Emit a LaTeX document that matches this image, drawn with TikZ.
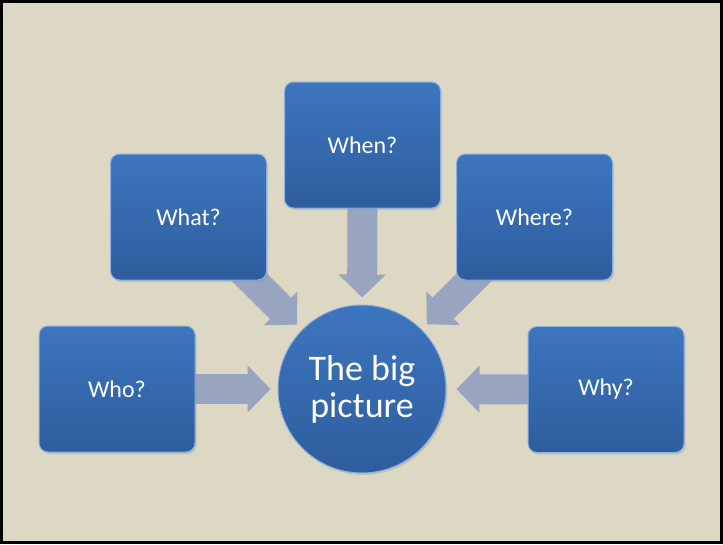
\documentclass[tikz,border=0pt]{standalone}
\usepackage{fontspec}
\setmainfont{Carlito}
\usetikzlibrary{arrows.meta,shadows}
\pgfdeclarelayer{back}
\pgfsetlayers{back,main}
\definecolor{slide}{HTML}{DDD8C3}
\definecolor{boxtop}{HTML}{3D75BF}
\definecolor{boxbot}{HTML}{2E5D9D}
\definecolor{boxrim}{HTML}{8AAEDD}
\definecolor{feedcol}{HTML}{99A5C0}

\begin{document}
\begin{tikzpicture}[x=1pt, y=-1pt,
  every node/.style = {draw=boxrim, line width=1pt,
    top color=boxtop, bottom color=boxbot, text=white, align=center,
    drop shadow={shadow xshift=1.5pt, shadow yshift=-2pt, opacity=0.25}},
  question/.style = {rectangle, rounded corners=9pt, minimum width=156pt,
    minimum height=126pt, font=\fontsize{24}{28}\selectfont},
  whole/.style = {circle, minimum size=168pt, inner sep=0pt,
    font=\fontsize{36}{37}\selectfont},
  feed/.style = {draw=feedcol, line width=30pt, shorten <=-20pt, shorten >=7pt,
    -{Triangle[width=46pt,length=23pt]}}]
  \useasboundingbox (0,0) rectangle (723,544);
  \begin{pgfonlayer}{back}
    \draw[fill=slide, line width=3pt] (1.5,1.5) rectangle (721.5,542.5);
  \end{pgfonlayer}
  \node[whole] (big) at (362,389) {The big\\picture};
  \node[question] (when) at (362.5,145) {When?};
  \node[question] (what) at (188.5,217) {What?};
  \node[question] (where) at (534.5,217) {Where?};
  \node[question] (who) at (117,389) {Who?};
  \node[question] (why) at (606,389.5) {Why?};
  \begin{pgfonlayer}{back}
    \draw[feed] (when) -- (big);
    \draw[feed] (what) -- (big);
    \draw[feed] (where) -- (big);
    \draw[feed] (who) -- (big);
    \draw[feed, shorten >=10pt] (why) -- (big);
  \end{pgfonlayer}
\end{tikzpicture}
\end{document}
